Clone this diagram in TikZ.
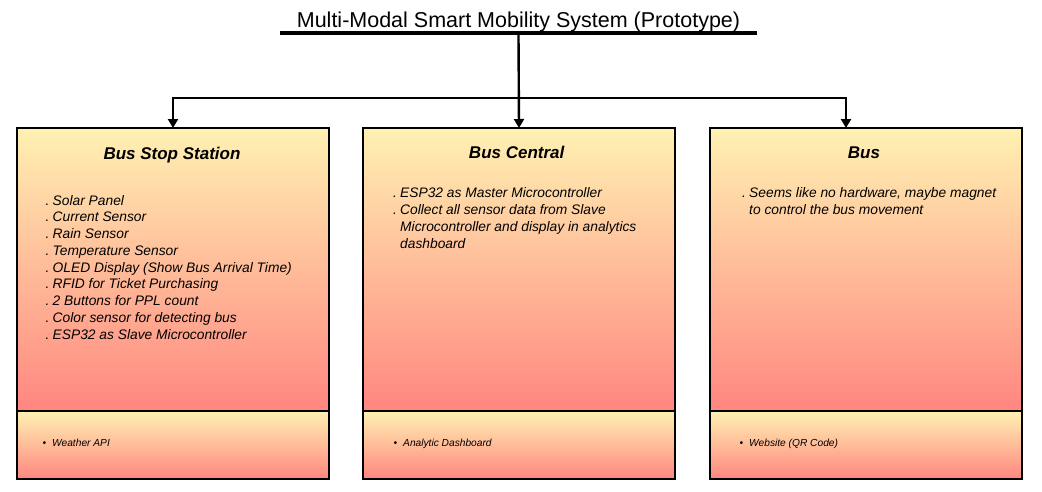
\documentclass[tikz,border=0pt]{standalone}
\usepackage{fontspec}
\setmainfont{Liberation Sans}
\usetikzlibrary{arrows.meta}
\definecolor{topc}{RGB}{255,241,178}
\definecolor{botc}{RGB}{255,134,128}
\tikzset{
 box/.style={draw=black, line width=2pt, top color=topc, bottom color=botc, minimum width=312pt, anchor=north west, inner sep=0pt, outer sep=0pt},
 conn/.style={line width=2.4pt, -{Triangle[length=9pt,width=10pt]}},
 head/.style={font=\fontsize{17}{20}\selectfont\bfseries\itshape, anchor=base, inner sep=0pt},
 item/.style={font=\fontsize{13.8}{16.75}\selectfont\itshape, anchor=base west, inner sep=0pt},
 small/.style={font=\fontsize{10.2}{12}\selectfont\itshape, anchor=base west, inner sep=0pt},
}
\newcommand{\dotb}{\makebox[7pt][l]{.}}
\newcommand{\bulb}{\makebox[9.5pt][l]{\textbullet}}
\begin{document}
\begin{tikzpicture}[x=1pt,y=-1pt]
\useasboundingbox (0,0) rectangle (1042,491);
% title
\node[font=\fontsize{21.5}{24}\selectfont, anchor=base, inner sep=0pt] (title) at (518.5,27) {Multi-Modal Smart Mobility System (Prototype)};
\coordinate (ul) at (280,33);
\coordinate (ur) at (757,33);
\draw[line width=4pt] (ul) -- (ur);
% boxes
\node[box, minimum height=283pt] (bss) at (17,128) {};
\node[box, minimum height=283pt] (central) at (363,128) {};
\node[box, minimum height=283pt] (bus) at (710,128) {};
\node[box, minimum height=68pt] (bssb) at (17,411) {};
\node[box, minimum height=68pt] (centralb) at (363,411) {};
\node[box, minimum height=68pt] (busb) at (710,411) {};
% connectors
\coordinate (t0) at (518.5,35);
\coordinate (j) at (518.5,98);
\coordinate (busin) at (846,128);
\draw[conn] (t0) -- (central.north);
\draw[conn] (j) -| (bss.north);
\draw[conn] (j) -| (busin);
% headings
\node[head] (h1) at (172,159) {Bus Stop Station};
\node[head] (h2) at (516.7,158.5) {Bus Central};
\node[head] (h3) at (864,158.5) {Bus};
% left items
\foreach \t [count=\i from 0] in {Solar Panel, Current Sensor, Rain Sensor, Temperature Sensor, OLED Display (Show Bus Arrival Time), RFID for Ticket Purchasing, 2 Buttons for PPL count, Color sensor for detecting bus, ESP32 as Slave Microcontroller}
  \node[item] (l\i) at (45.5,205+16.75*\i) {\dotb\t};
% middle items
\node[item] (m0) at (393,197.3) {\dotb ESP32 as Master Microcontroller};
\node[item] (m1) at (393,214.2) {\dotb Collect all sensor data from Slave};
\node[item] (m2) at (400,231.1) {Microcontroller and display in analytics};
\node[item] (m3) at (400,248) {dashboard};
% right items
\node[item] (r0) at (742,197.7) {\dotb Seems like no hardware, maybe magnet};
\node[item] (r1) at (749,214.4) {to control the bus movement};
% bottom items
\node[small] (b1) at (42.5,446) {\bulb Weather API};
\node[small] (b2) at (393.5,446) {\bulb Analytic Dashboard};
\node[small] (b3) at (739.5,446) {\bulb Website (QR Code)};
\end{tikzpicture}
\end{document}
